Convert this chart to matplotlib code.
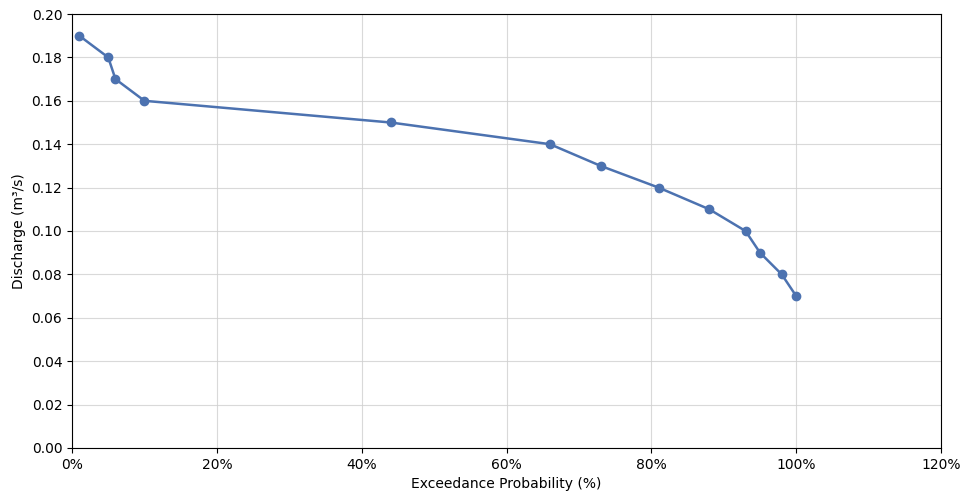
import matplotlib
matplotlib.use("Agg")
import matplotlib.pyplot as plt
from matplotlib.ticker import PercentFormatter

exceedance = [1, 5, 6, 10, 44, 66, 73, 81, 88, 93, 95, 98, 100]
discharge = [0.19, 0.18, 0.17, 0.16, 0.15, 0.14, 0.13, 0.12, 0.11, 0.10, 0.09, 0.08, 0.07]

fig = plt.figure(figsize=(9.64, 4.93), dpi=100)
ax = fig.add_axes([0.0747, 0.0913, 0.9015, 0.8803])
ax.plot(exceedance, discharge, marker="o", color="#4c72b0", linewidth=1.8, markersize=6)

ax.set_xlim(0, 120)
ax.set_ylim(0, 0.20)
ax.set_xticks(range(0, 121, 20))
ax.set_yticks([i / 100 for i in range(0, 21, 2)])
ax.xaxis.set_major_formatter(PercentFormatter(decimals=0))
ax.yaxis.set_major_formatter(plt.FormatStrFormatter("%.2f"))
ax.grid(True, color="#d0d0d0", alpha=0.8, linewidth=0.8)
ax.set_xlabel("Exceedance Probability (%)")
ax.set_ylabel("Discharge (m³/s)")

fig.savefig("out.png", dpi=100)
